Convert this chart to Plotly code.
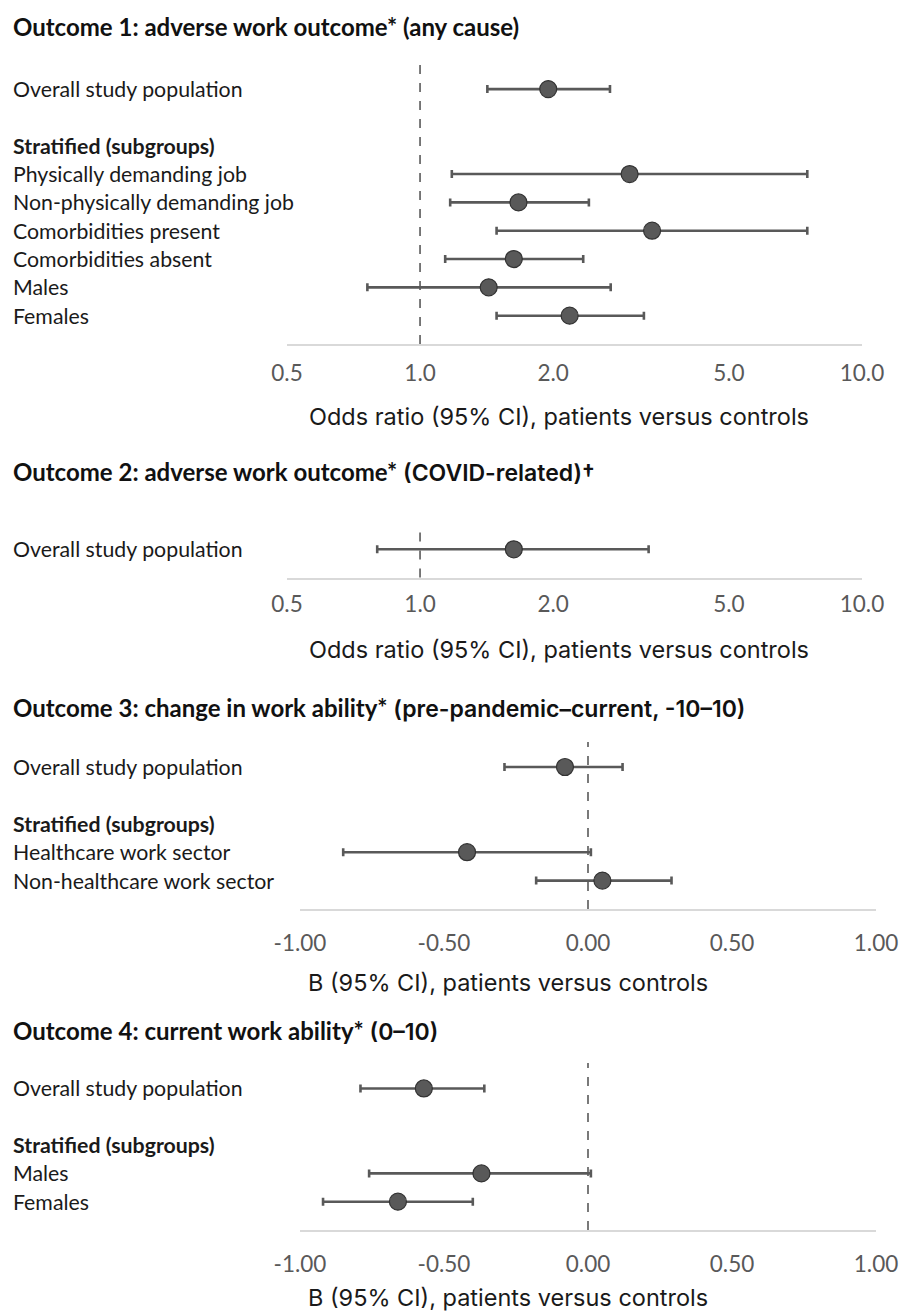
import plotly.graph_objects as go

# ---------------- data ----------------
o1_labels = ["Overall study population", "Physically demanding job", "Non-physically demanding job",
             "Comorbidities present", "Comorbidities absent", "Males", "Females"]
o1_est = [1.95, 2.98, 1.67, 3.35, 1.63, 1.43, 2.18]
o1_lo = [1.42, 1.18, 1.17, 1.49, 1.14, 0.76, 1.49]
o1_hi = [2.69, 7.52, 2.41, 7.52, 2.34, 2.70, 3.21]

o2_labels = ["Overall study population"]
o2_est = [1.63]
o2_lo = [0.80]
o2_hi = [3.29]

o3_labels = ["Overall study population", "Healthcare work sector", "Non-healthcare work sector"]
o3_est = [-0.08, -0.42, 0.05]
o3_lo = [-0.29, -0.85, -0.18]
o3_hi = [0.12, 0.01, 0.29]

o4_labels = ["Overall study population", "Males", "Females"]
o4_est = [-0.57, -0.37, -0.66]
o4_lo = [-0.79, -0.76, -0.92]
o4_hi = [-0.36, 0.01, -0.40]

or_ticks = [0.5, 1, 2, 5, 10]
or_ticktext = ["0.5", "1.0", "2.0", "5.0", "10.0"]
b_ticks = [-1, -0.5, 0, 0.5, 1]
b_ticktext = ["-1.00", "-0.50", "0.00", "0.50", "1.00"]

titles_main = ["Outcome 1: adverse work outcome* (any cause)",
               "Outcome 2: adverse work outcome*",
               "Outcome 3: change in work ability*",
               "Outcome 4: current work ability*"]
titles_extra = [None, "(COVID-related)†", "(pre-pandemic–current, -10–10)", "(0–10)"]
or_title = "Odds ratio (95% CI), patients versus controls"
b_title = "B (95% CI), patients versus controls"
strat_label = "Stratified (subgroups)"

# ---------------- styling / layout ----------------
W, H = 901, 1313
LBL_FONT = "Lato"
AX_FONT = "Inter"
DARK = "#595959"


def py(px):
    return 1 - px / H


def pxx(px):
    return px / W


panels = [
    dict(labels=o1_labels, est=o1_est, lo=o1_lo, hi=o1_hi, log=True, strat=True,
         ydom=(65, 344), yrange=[9, -0.85], xdom=(287, 862), ticklen=8,
         title_y=26, axt_y=416, axt_x=559),
    dict(labels=o2_labels, est=o2_est, lo=o2_lo, hi=o2_hi, log=True, strat=False,
         ydom=(527, 577.5), yrange=[1, -0.79], xdom=(287, 862), ticklen=5,
         title_y=472, axt_y=649, axt_x=559),
    dict(labels=o3_labels, est=o3_est, lo=o3_lo, hi=o3_hi, log=False, strat=True,
         ydom=(742, 909), yrange=[5, -0.88], xdom=(300, 876), ticklen=13,
         title_y=708, axt_y=983, axt_x=508),
    dict(labels=o4_labels, est=o4_est, lo=o4_lo, hi=o4_hi, log=False, strat=True,
         ydom=(1063, 1230), yrange=[5, -0.9], xdom=(300, 876), ticklen=13,
         title_y=1031, axt_y=1297, axt_x=508),
]

fig = go.Figure()
annotations = []
shapes = []
layout = {}

for i, p in enumerate(panels):
    k = "" if i == 0 else str(i + 1)
    xa, ya = "x" + k, "y" + k
    # row positions: overall at 0, subgroups from 3 onward
    rows = [0] + [3 + j for j in range(len(p["labels"]) - 1)]
    est = p["est"]
    fig.add_trace(go.Scatter(
        x=est, y=rows, xaxis=xa, yaxis=ya, mode="markers",
        marker=dict(size=17, color=DARK, line=dict(color="#333333", width=1.2)),
        error_x=dict(type="data", symmetric=False,
                     array=[h - e for h, e in zip(p["hi"], est)],
                     arrayminus=[e - l for e, l in zip(est, p["lo"])],
                     color=DARK, thickness=2.6, width=4),
        showlegend=False, hoverinfo="skip"))

    if p["log"]:
        xr = [-0.30103, 1.0]
        tv, tt = or_ticks, or_ticktext
        ref = 1
    else:
        xr = [-1, 1]
        tv, tt = b_ticks, b_ticktext
        ref = 0

    layout["xaxis" + k] = dict(
        domain=[pxx(p["xdom"][0]), pxx(p["xdom"][1])], anchor=ya,
        type="log" if p["log"] else "linear", range=xr, automargin=False,
        tickvals=tv, ticktext=tt, showgrid=False, zeroline=False,
        showline=True, linecolor="#d9d9d9", linewidth=2,
        ticks="outside", ticklen=p["ticklen"], tickcolor="rgba(0,0,0,0)",
        tickfont=dict(family=LBL_FONT, size=22.5, color=DARK), fixedrange=True)
    layout["yaxis" + k] = dict(
        domain=[py(p["ydom"][1]), py(p["ydom"][0])], anchor=xa, automargin=False,
        range=p["yrange"], visible=False, showgrid=False, zeroline=False, fixedrange=True)

    # reference line
    shapes.append(dict(type="line", xref=xa, x0=ref, x1=ref, yref=ya + " domain", y0=0, y1=1,
                       line=dict(color=DARK, width=1.6, dash="dash"), layer="above"))

    # row labels
    for lab, r in zip(p["labels"], rows):
        annotations.append(dict(text=lab, xref="paper", x=pxx(11), yref=ya, y=r,
                                xanchor="left", yanchor="middle", showarrow=False,
                                font=dict(family=LBL_FONT, size=21.3, color="#1a1a1a")))
    if p["strat"]:
        annotations.append(dict(text="<b>" + strat_label + "</b>", xref="paper", x=pxx(11), yref=ya, y=2,
                                xanchor="left", yanchor="middle", showarrow=False,
                                font=dict(family=LBL_FONT, size=21.3, color="#1a1a1a")))

    # titles (main part Lato bold, extra part in a different sans)
    ttl = "<b>" + titles_main[i] + "</b>"
    if titles_extra[i]:
        ttl += ("<span style='font-family:Inter;font-weight:600;font-size:23px'> "
                + titles_extra[i] + "</span>")
    annotations.append(dict(text=ttl, xref="paper", yref="paper",
                            x=pxx(11), y=py(p["title_y"]), xanchor="left", yanchor="middle",
                            showarrow=False, font=dict(family=LBL_FONT, size=24, color="#111111")))

    # axis title
    annotations.append(dict(text=or_title if p["log"] else b_title, xref="paper", yref="paper",
                            x=pxx(p["axt_x"]), y=py(p["axt_y"]), xanchor="center", yanchor="middle",
                            showarrow=False, font=dict(family=AX_FONT, size=23.5, color="#1a1a1a")))

fig.update_layout(width=W, height=H, margin=dict(l=0, r=0, t=0, b=0, autoexpand=False),
                  paper_bgcolor="white", plot_bgcolor="white", showlegend=False,
                  annotations=annotations, shapes=shapes, **layout)

fig.write_html("out.html", config={"displayModeBar": False},
               post_script="document.body.style.margin='0';document.body.style.overflow='hidden';")
